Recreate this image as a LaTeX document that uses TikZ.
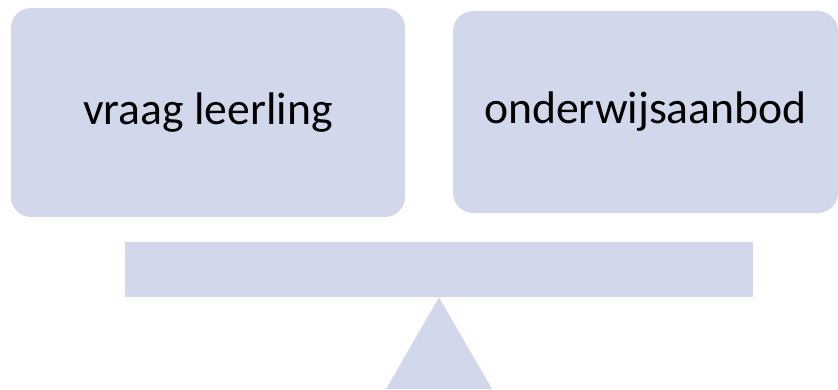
\documentclass[tikz,border=0pt]{standalone}
\usepackage{fontspec}
\setmainfont{Carlito}
\usetikzlibrary{positioning}

\definecolor{lavender}{RGB}{210,216,235}

\begin{document}
\begin{tikzpicture}[x=0.02cm,y=-0.02cm]
\tikzset{
  pan/.style={rectangle,rounded corners=0.4cm,fill=lavender,inner sep=0pt,
    font=\fontsize{26}{30}\selectfont},
  beam/.style={rectangle,fill=lavender,inner sep=0pt}
}
\useasboundingbox (0,0) rectangle (838,389);

% the two pans
\node[pan,minimum width=7.88cm,minimum height=4.18cm] (vraag) at (208,112.5) {vraag leerling};
\node[pan,minimum width=7.7cm,minimum height=4.04cm] (aanbod) at (645.5,112) {onderwijsaanbod};

% beam and pivot
\node[beam,minimum width=12.56cm,minimum height=1.1cm] (balk) at (439,269.5) {};
\coordinate (linksvoet) at (386,389);
\coordinate (rechtsvoet) at (492,389);
\fill[lavender] (balk.south) -- (rechtsvoet) -- (linksvoet) -- cycle;

\end{tikzpicture}
\end{document}
